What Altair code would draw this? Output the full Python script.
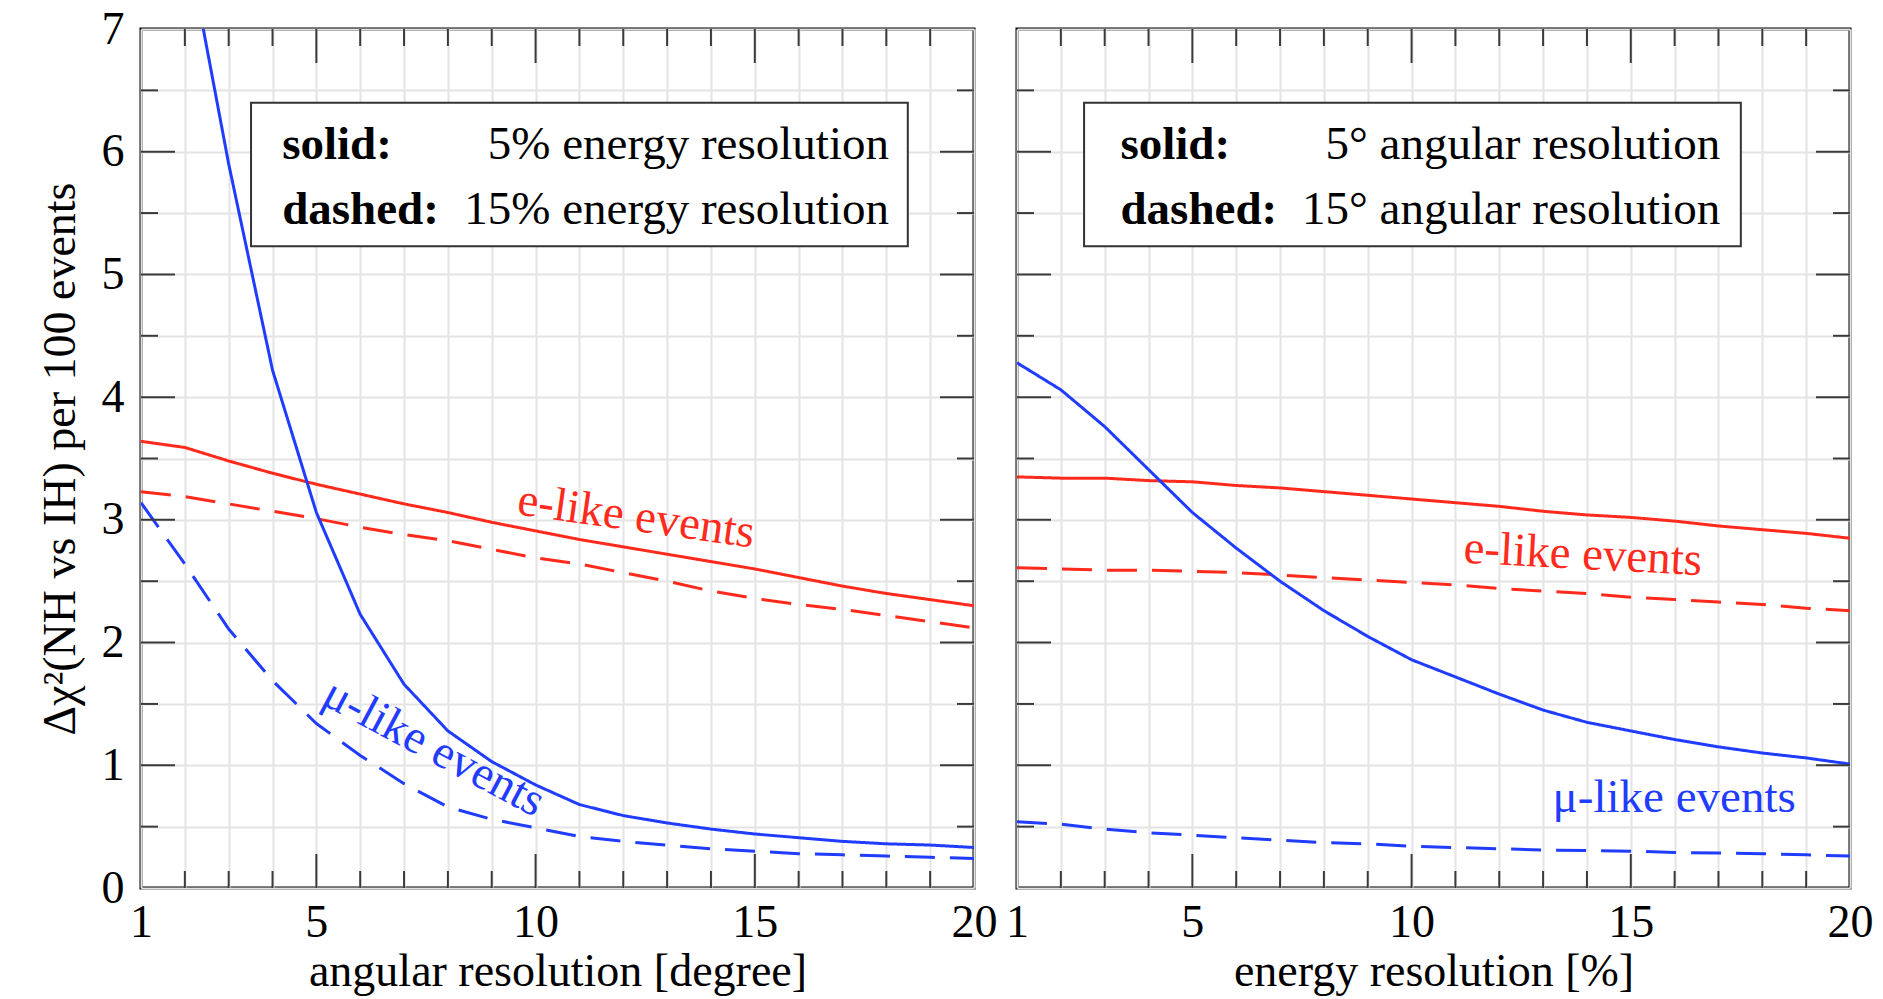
import altair as alt
import pandas as pd

FONT = "Liberation Serif"
RED = "#ff2a1c"
BLUE = "#1f3cff"

# ---------------- data ----------------
X = list(range(1, 21))

# left panel: angular resolution [degree]
ang_e_solid = [3.64, 3.59, 3.48, 3.38, 3.29, 3.21, 3.13, 3.06, 2.98, 2.91,
               2.84, 2.78, 2.72, 2.66, 2.60, 2.53, 2.46, 2.40, 2.35, 2.30]
ang_e_dashed = [3.23, 3.19, 3.13, 3.07, 3.01, 2.94, 2.88, 2.83, 2.76, 2.69,
                2.64, 2.57, 2.50, 2.42, 2.36, 2.31, 2.27, 2.22, 2.17, 2.12]
ang_mu_solid_x = list(range(2, 21))
ang_mu_solid = [7.8, 5.9, 4.22, 3.06, 2.23, 1.66, 1.28, 1.03, 0.84, 0.68,
                0.59, 0.53, 0.48, 0.44, 0.41, 0.38, 0.36, 0.35, 0.33]
ang_mu_dashed = [3.14, 2.64, 2.11, 1.69, 1.34, 1.08, 0.85, 0.66, 0.56, 0.49,
                 0.42, 0.38, 0.35, 0.32, 0.30, 0.28, 0.27, 0.26, 0.25, 0.24]

# right panel: energy resolution [%]
en_e_solid = [3.35, 3.34, 3.34, 3.32, 3.31, 3.28, 3.26, 3.23, 3.20, 3.17,
              3.14, 3.11, 3.07, 3.04, 3.02, 2.99, 2.95, 2.92, 2.89, 2.85]
en_e_dashed = [2.61, 2.60, 2.59, 2.59, 2.58, 2.57, 2.55, 2.53, 2.51, 2.49,
               2.47, 2.44, 2.42, 2.40, 2.37, 2.35, 2.33, 2.31, 2.28, 2.26]
en_mu_solid = [4.28, 4.06, 3.76, 3.41, 3.06, 2.77, 2.50, 2.26, 2.05, 1.86,
               1.72, 1.58, 1.45, 1.35, 1.28, 1.21, 1.15, 1.10, 1.06, 1.01]
en_mu_dashed = [0.54, 0.52, 0.48, 0.45, 0.43, 0.41, 0.39, 0.37, 0.36, 0.34,
                0.33, 0.32, 0.31, 0.305, 0.30, 0.29, 0.285, 0.28, 0.27, 0.26]

# axis ticks / grid
x_tick_labels = [1, 5, 10, 15, 20]
x_major_ticks = [5, 10, 15]
x_minor_ticks = [v for v in X if v not in x_tick_labels]
y_grid = [i * 0.5 for i in range(15)]
y_major_ticks = [1, 2, 3, 4, 5, 6]
y_minor_ticks = [0.5, 1.5, 2.5, 3.5, 4.5, 5.5, 6.5]

# annotations
ang_labels = ["e-like events", "μ-like events"]
ang_label_x = [12.25, 7.53]
ang_label_y = [2.91, 1.04]
ang_label_angle = [8, 28]
en_labels = ["e-like events", "μ-like events"]
en_label_x = [13.89, 15.99]
en_label_y = [2.60, 0.62]
en_label_angle = [3, 0]
label_colors = [RED, BLUE]

legend_keys = ["solid:", "dashed:"]
legend_row_y = [5.94, 5.41]
ang_legend_vals = ["5% energy resolution", "15% energy resolution"]
en_legend_vals = ["5° angular resolution", "15° angular resolution"]
ang_box = dict(x0=3.51, x1=18.49, y0=5.23, y1=6.40, kx=4.22, vx=18.06)
en_box = dict(x0=2.53, x1=17.51, y0=5.23, y1=6.40, kx=3.36, vx=17.04)

W, H = 833, 859
MAJ, MIN = 34, 17


def series_df(e_s, e_d, mu_s_x, mu_s, mu_d):
    rows = []
    for x, y in zip(X, e_s):
        rows.append(dict(x=x, y=y, kind="e", style="solid"))
    for x, y in zip(X, e_d):
        rows.append(dict(x=x, y=y, kind="e", style="dashed"))
    for x, y in zip(mu_s_x, mu_s):
        rows.append(dict(x=x, y=y, kind="mu", style="solid"))
    for x, y in zip(X, mu_d):
        rows.append(dict(x=x, y=y, kind="mu", style="dashed"))
    return pd.DataFrame(rows)


label_expr_x = "indexof([" + ",".join(str(v) for v in x_tick_labels) + "], datum.value) >= 0 ? datum.label : ''"
label_expr_y = "datum.value % 1 === 0 ? format(datum.value, 'd') : ''"


def panel(df, xtitle, labels, lx, ly, la, box, vals, show_y):
    xs = alt.Scale(domain=[1, 20], nice=False, zero=False)
    ys = alt.Scale(domain=[0, 7], nice=False, zero=False)
    xaxis = alt.Axis(orient="bottom", values=X, labelExpr=label_expr_x, ticks=False, tickSize=0,
                     domain=False, grid=True, gridColor="#e4e4e4", gridWidth=2,
                     labelFont=FONT, labelFontSize=46, labelColor="black",
                     labelPadding=12, labelOverlap=False, labelFlush=False,
                     title=xtitle, titleFont=FONT, titleFontSize=46,
                     titleFontWeight="normal", titleColor="black", titlePadding=4)
    if show_y:
        yaxis = alt.Axis(orient="left", values=y_grid, labelExpr=label_expr_y,
                         ticks=False, tickSize=0, domain=False, grid=True,
                         gridColor="#e4e4e4", gridWidth=2,
                         labelFont=FONT, labelFontSize=46, labelColor="black",
                         labelPadding=17, labelOverlap=False, labelFlush=False,
                         title="Δχ²(NH vs IH) per 100 events", titleFont=FONT,
                         titleFontSize=46, titleFontWeight="normal",
                         titleColor="black", titlePadding=17)
    else:
        yaxis = alt.Axis(orient="left", values=y_grid, labels=False, ticks=False, domain=False,
                         grid=True, gridColor="#e4e4e4", gridWidth=2, title=None)

    lines = alt.Chart(df).mark_line(clip=True, strokeWidth=3).encode(
        x=alt.X("x:Q", scale=xs, axis=xaxis),
        y=alt.Y("y:Q", scale=ys, axis=yaxis),
        color=alt.Color("kind:N", scale=alt.Scale(domain=["e", "mu"], range=[RED, BLUE]), legend=None),
        strokeDash=alt.StrokeDash("style:N", scale=alt.Scale(domain=["solid", "dashed"],
                                                               range=[[1, 0], [30, 15]]), legend=None),
        order="x:Q",
    )

    tick_color = "#3a3a3a"
    xmaj = pd.DataFrame(dict(v=x_major_ticks))
    xmin = pd.DataFrame(dict(v=x_minor_ticks))
    ymaj = pd.DataFrame(dict(v=y_major_ticks))
    ymin = pd.DataFrame(dict(v=y_minor_ticks))
    ticks = []
    for d, L in ((xmaj, MAJ), (xmin, MIN)):
        ticks.append(alt.Chart(d).mark_rule(color=tick_color, strokeWidth=2).encode(
            x=alt.X("v:Q", scale=xs, axis=None), y=alt.value(H), y2=alt.value(H - L)))
        ticks.append(alt.Chart(d).mark_rule(color=tick_color, strokeWidth=2).encode(
            x=alt.X("v:Q", scale=xs, axis=None), y=alt.value(0), y2=alt.value(L)))
    for d, L in ((ymaj, MAJ), (ymin, MIN)):
        ticks.append(alt.Chart(d).mark_rule(color=tick_color, strokeWidth=2).encode(
            y=alt.Y("v:Q", scale=ys, axis=None), x=alt.value(0), x2=alt.value(L)))
        ticks.append(alt.Chart(d).mark_rule(color=tick_color, strokeWidth=2).encode(
            y=alt.Y("v:Q", scale=ys, axis=None), x=alt.value(W), x2=alt.value(W - L)))

    ann = pd.DataFrame(dict(t=labels, x=lx, y=ly, a=la, c=label_colors))
    ann_text = alt.Chart(ann).mark_text(font=FONT, fontSize=47, align="center",
                                        baseline="alphabetic").encode(
        x=alt.X("x:Q", scale=xs, axis=None), y=alt.Y("y:Q", scale=ys, axis=None),
        text="t:N", angle=alt.Angle("a:Q", scale=None), color=alt.Color("c:N", scale=None))

    bdf = pd.DataFrame([box])
    rect = alt.Chart(bdf).mark_rect(fill="white", stroke="#333333", strokeWidth=2).encode(
        x=alt.X("x0:Q", scale=xs, axis=None), x2="x1:Q",
        y=alt.Y("y0:Q", scale=ys, axis=None), y2="y1:Q")
    leg = pd.DataFrame(dict(k=legend_keys, v=vals, y=legend_row_y,
                            kx=[box["kx"]] * 2, vx=[box["vx"]] * 2))
    keys = alt.Chart(leg).mark_text(font=FONT, fontSize=47, fontWeight="bold", align="left",
                                    baseline="alphabetic", color="black").encode(
        x=alt.X("kx:Q", scale=xs, axis=None), y=alt.Y("y:Q", scale=ys, axis=None), text="k:N")
    valt = alt.Chart(leg).mark_text(font=FONT, fontSize=47, align="right",
                                    baseline="alphabetic", color="black").encode(
        x=alt.X("vx:Q", scale=xs, axis=None), y=alt.Y("y:Q", scale=ys, axis=None), text="v:N")

    return alt.layer(lines, *ticks, rect, keys, valt, ann_text).resolve_axis(
        x="independent", y="independent").properties(width=W, height=H)


left = panel(series_df(ang_e_solid, ang_e_dashed, ang_mu_solid_x, ang_mu_solid, ang_mu_dashed),
             "angular resolution [degree]", ang_labels, ang_label_x, ang_label_y,
             ang_label_angle, ang_box, ang_legend_vals, True)
right = panel(series_df(en_e_solid, en_e_dashed, X, en_mu_solid, en_mu_dashed),
              "energy resolution [%]", en_labels, en_label_x, en_label_y,
              en_label_angle, en_box, en_legend_vals, False)

chart = alt.hconcat(left, right, spacing=43, bounds="flush").properties(
    padding={"left": 35, "top": 4, "right": 4, "bottom": 0},
    background="white",
).configure_view(stroke="black", strokeWidth=3)

chart.save("out.html", embed_options={"renderer": "svg", "actions": False})
